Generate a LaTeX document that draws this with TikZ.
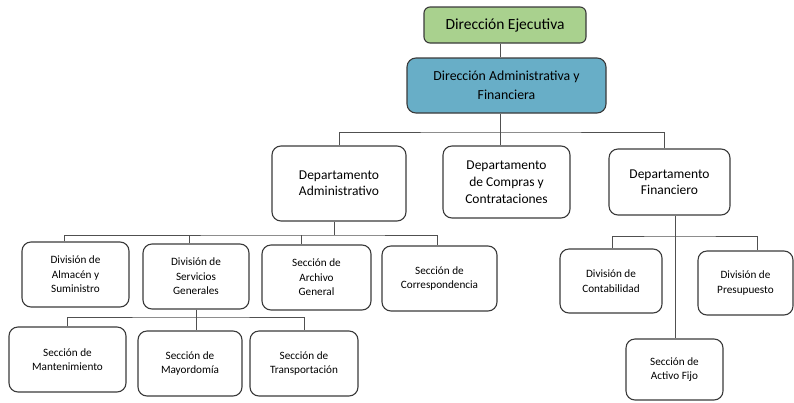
\documentclass[tikz,border=0pt]{standalone}
\usepackage{fontspec}
\setmainfont{Carlito}
\definecolor{ejecgreen}{HTML}{A9D18E}
\definecolor{admblue}{HTML}{68AEC7}
\definecolor{boxline}{HTML}{3A3A3A}
\definecolor{linkline}{HTML}{505050}
\begin{document}
\begin{tikzpicture}[x=1pt,y=-1pt,
  box/.style={draw=boxline,line width=1.1pt,rounded corners=9pt,align=center,inner sep=1pt},
  dept/.style={box,font=\fontsize{13.5}{16}\selectfont},
  unit/.style={box,font=\fontsize{11.2}{14.5}\selectfont},
  link/.style={draw=linkline,line width=0.9pt}]
\useasboundingbox (0,0) rectangle (794,402);
% top levels
\node[box,fill=ejecgreen,rounded corners=6pt,minimum width=162pt,minimum height=36pt,
  font=\fontsize{15.5}{18}\selectfont] (eje) at (505,25) {Dirección Ejecutiva};
\node[box,fill=admblue,minimum width=199pt,minimum height=55pt,
  font=\fontsize{13.8}{19}\selectfont] (daf) at (506.5,85.5) {Dirección Administrativa y\\Financiera};
% departamentos
\node[dept,minimum width=134pt,minimum height=75pt] (dadm) at (339,183.5) {Departamento\\Administrativo};
\node[dept,minimum width=127pt,minimum height=72pt,font=\fontsize{13.5}{17}\selectfont] (dcomp) at (506.5,182) {Departamento\\de Compras y\\Contrataciones};
\node[dept,minimum width=121pt,minimum height=66pt] (dfin) at (669.5,182) {Departamento\\Financiero};
% divisiones y secciones
\node[unit,minimum width=107pt,minimum height=65pt] (dalm) at (75.5,274.5) {División de\\Almacén y\\Suministro};
\node[unit,minimum width=106pt,minimum height=65pt] (dserv) at (196,276.5) {División de\\Servicios\\Generales};
\node[unit,minimum width=109pt,minimum height=65pt] (sarch) at (316.5,277.5) {Sección de\\Archivo\\General};
\node[unit,minimum width=115pt,minimum height=65pt] (scorr) at (439.5,278.5) {Sección de\\Correspondencia};
\node[unit,minimum width=117pt,minimum height=65pt] (smant) at (67.5,359.5) {Sección de\\Mantenimiento};
\node[unit,minimum width=104pt,minimum height=65pt] (smay) at (190,363.5) {Sección de\\Mayordomía};
\node[unit,minimum width=108pt,minimum height=65pt] (strans) at (304,363.5) {Sección de\\Transportación};
\node[unit,minimum width=102pt,minimum height=64pt] (dcont) at (611,281) {División de\\Contabilidad};
\node[unit,minimum width=95pt,minimum height=64pt] (dpres) at (745.5,283) {División de\\Presupuesto};
\node[unit,minimum width=97pt,minimum height=61pt] (sact) at (674.5,369.5) {Sección de\\Activo Fijo};
% conectores
\coordinate (j0) at (500,132);
\coordinate (j1) at (334,235);
\coordinate (j2) at (196,317);
\coordinate (j3) at (675,236);
\draw[link] (eje.south -| j0) -- (daf.north -| j0);
\draw[link] (daf.south -| j0) -- (dcomp.north -| j0);
\draw[link] (dadm.north) |- (j0) -| ([xshift=-5.5pt]dfin.north);
\draw[link] (dadm.south -| j1) -- (j1);
\draw[link] ([xshift=-11.5pt]dalm.north) |- (j1) -| ([xshift=-2.5pt]scorr.north);
\draw[link] ([xshift=-7pt]dserv.north) -- ([xshift=-7pt]dserv.north |- j1);
\draw[link] ([xshift=-15.5pt]sarch.north) -- ([xshift=-15.5pt]sarch.north |- j1);
\draw[link] (dserv.south) -- (j2);
\draw[link] (smant.north) |- (j2) -| (strans.north);
\draw[link] (j2) -- (j2 |- smay.north);
\draw[link] (dfin.south -| j3) -- (sact.north -| j3);
\draw[link] ([xshift=1pt]dcont.north) |- (j3) -| ([xshift=11.5pt]dpres.north);
\end{tikzpicture}
\end{document}
